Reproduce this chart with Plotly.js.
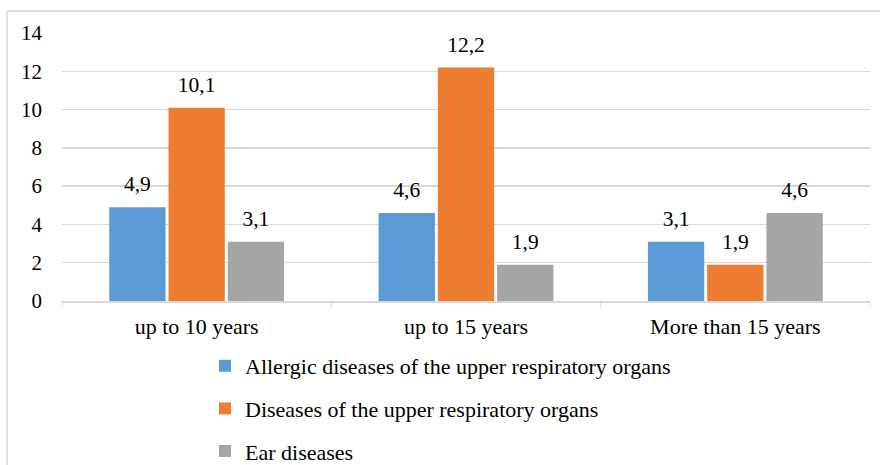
<!DOCTYPE html>
<html>
<head>
<meta charset="utf-8">
<script src="https://cdn.plot.ly/plotly-3.0.1.min.js"></script>
<style>html,body{margin:0;padding:0;background:#fff;}#chart{width:880px;height:465px;}</style>
</head>
<body>
<div id="chart"></div>
<script>
const categories = ["up to 10 years", "up to 15 years", "More than 15 years"];
const seriesNames = ["Allergic diseases of the upper respiratory organs", "Diseases of the upper respiratory organs", "Ear diseases"];
const allergic = [4.9, 4.6, 3.1];
const upperResp = [10.1, 12.2, 1.9];
const ear = [3.1, 1.9, 4.6];
const yTicks = [0, 2, 4, 6, 8, 10, 12, 14];
const colors = ["#5B9BD5", "#ED7D31", "#A5A5A5"];

const fontFam = "Liberation Serif";
const fmt = v => v.toFixed(1).replace(".", ",");

const values = [allergic, upperResp, ear];
const barTraces = values.map((vals, i) => ({
  type: "bar",
  x: categories,
  y: vals,
  name: seriesNames[i],
  legendgroup: "g" + i,
  offsetgroup: "s" + i,
  marker: {color: colors[i]},
  hoverinfo: "x+y"
}));
const labelTraces = values.map((vals, i) => ({
  type: "scatter",
  mode: "markers+text",
  x: categories,
  y: vals,
  offsetgroup: "s" + i,
  showlegend: false,
  marker: {size: 15, color: "rgba(0,0,0,0)"},
  text: vals.map(fmt),
  textposition: "top center",
  cliponaxis: false,
  textfont: {family: fontFam, size: 21.5, color: "#000"},
  hoverinfo: "skip"
}));

const L = 62, R = 870, T = 33, B = 301, W = 880, H = 465;
const pw = R - L, ph = B - T;

const layout = {
  width: W, height: H,
  margin: {l: L, r: W - R, t: T, b: H - B, autoexpand: false},
  paper_bgcolor: "#fff",
  plot_bgcolor: "#fff",
  font: {family: fontFam, size: 21, color: "#000"},
  barmode: "group",
  bargap: 0.34,
  bargroupgap: 0.05,
  scattermode: "group",
  scattergap: 0.34,
  showlegend: true,
  legend: {
    orientation: "v",
    x: (205 - L) / pw, xanchor: "left",
    y: -(345 - B) / ph, yanchor: "top",
    font: {family: fontFam, size: 22, color: "#000"},
    tracegroupgap: 11,
    bgcolor: "rgba(0,0,0,0)"
  },
  xaxis: {
    type: "category",
    showgrid: false,
    showline: true,
    linecolor: "#D9D9D9",
    linewidth: 1.5,
    ticks: "outside",
    tickson: "boundaries",
    ticklen: 5,
    tickcolor: "#D9D9D9",
    tickangle: 0,
    ticklabelstandoff: 5,
    tickfont: {family: fontFam, size: 22, color: "#000"},
    fixedrange: true,
    automargin: false
  },
  yaxis: {
    range: [0, 14],
    tickvals: yTicks,
    ticktext: yTicks.map(String),
    showgrid: true,
    gridcolor: "#D9D9D9",
    gridwidth: 1.5,
    zeroline: false,
    showline: false,
    ticks: "",
    ticklabelstandoff: 19,
    tickfont: {family: fontFam, size: 21, color: "#000"},
    fixedrange: true,
    automargin: false
  },
  shapes: [{
    type: "rect", xref: "paper", yref: "paper",
    x0: (7 - L) / pw, x1: (890 - L) / pw,
    y0: (B - 475) / ph, y1: (B - 11) / ph,
    line: {color: "#D9D9D9", width: 1.5},
    fillcolor: "rgba(0,0,0,0)",
    layer: "below"
  }]
};

Plotly.newPlot("chart", barTraces.concat(labelTraces), layout, {displayModeBar: false, staticPlot: true});
</script>
</body>
</html>
